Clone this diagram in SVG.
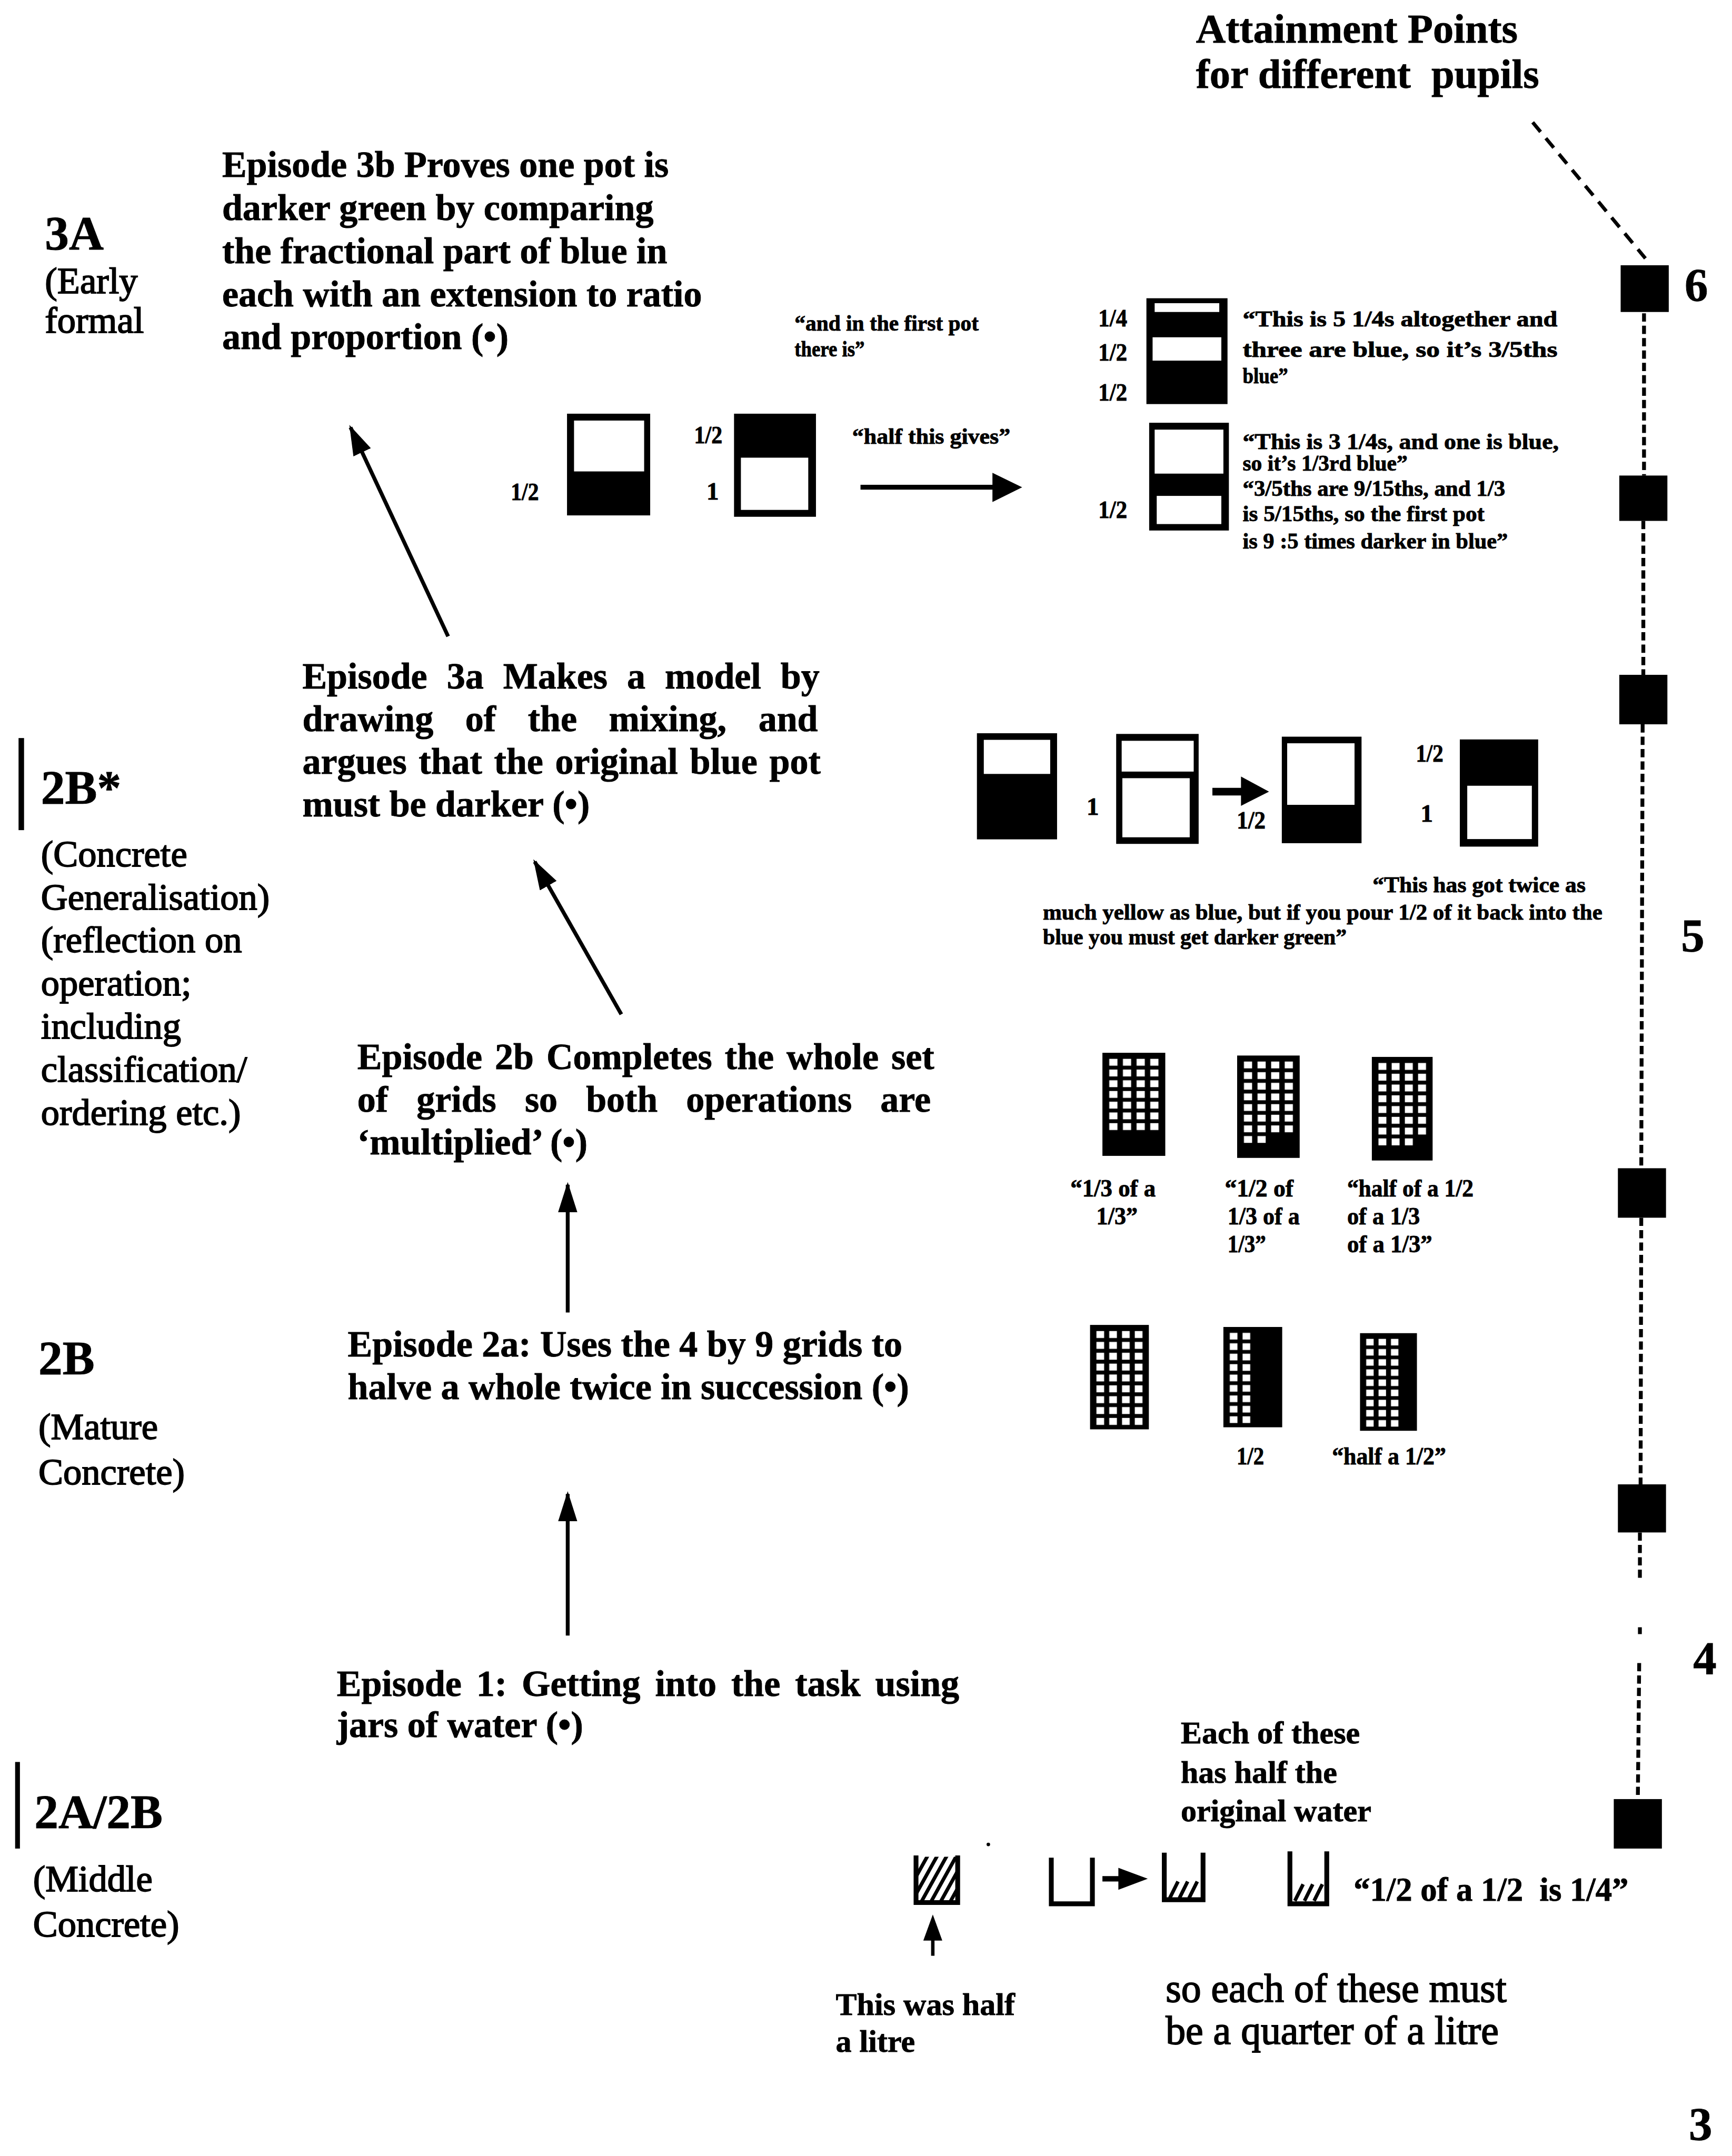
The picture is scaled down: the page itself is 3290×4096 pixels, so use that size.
<svg xmlns="http://www.w3.org/2000/svg" width="3290" height="4096" viewBox="0 0 3290 4096">
<defs>
<style>
.b{font-family:"Liberation Serif","Times New Roman",serif;font-weight:bold;fill:#000;stroke:#000;stroke-width:0.35}
.r{font-family:"Liberation Serif","Times New Roman",serif;font-weight:normal;fill:#000;stroke:#000;stroke-width:0.7}
.ep{font-size:26.8px}
.lvl{font-size:35px}
.desc{font-size:27px}
.q{font-size:16px}
.fr{font-size:18px}
.gl{font-size:18px}
.num{font-size:34px}
.hdr{font-size:30px}
.bot{font-size:23px}
.big{font-size:29px}
.blk{fill:#000}
.wht{fill:#fff}
.conn{stroke:#000;stroke-width:2.8;fill:none}
.dash{stroke:#000;stroke-width:2.6;fill:none;stroke-dasharray:9 6}
.vdash{stroke:#000;stroke-width:2.8;fill:none;stroke-dasharray:6 3}
.jar{stroke:#000;stroke-width:3.5;fill:none}
.hatch{stroke:#000;stroke-width:2.6;fill:none}
</style>
<marker id="ah" viewBox="0 0 22 14" refX="20" refY="7" markerWidth="22" markerHeight="14" markerUnits="userSpaceOnUse" orient="auto">
<path d="M0,0 L22,7 L0,14 z" fill="#000"/>
</marker>
<pattern id="cells" x="4" y="3" width="10" height="7.8" patternUnits="userSpaceOnUse">
<rect x="1" y="1.4" width="6" height="5" fill="#fff"/>
</pattern>
<clipPath id="j1clip"><rect x="667" y="1351" width="29" height="33"/></clipPath>
</defs>
<rect width="3290" height="4096" fill="#fff"/>
<g transform="scale(2.6111)">

<!-- Header -->
<g id="header">
<text class="b hdr" x="870" y="31">Attainment Points</text>
<text class="b hdr" x="870" y="64" style="white-space:pre">for different  pupils</text>
</g>

<!-- Level labels -->
<g id="level-3A">
<text class="b lvl" x="32.7" y="181.5">3A</text>
<text class="r desc" x="32.7" y="213.5">(Early</text>
<text class="r desc" x="32.7" y="242">formal</text>
</g>
<g id="level-2Bstar">
<rect class="blk" x="13.5" y="537" width="4" height="67"/>
<text class="b lvl" x="29.8" y="584.8">2B*</text>
<text class="r desc" x="29.8" y="630.4">(Concrete</text>
<text class="r desc" x="29.8" y="661.7">Generalisation)</text>
<text class="r desc" x="29.8" y="693">(reflection on</text>
<text class="r desc" x="29.8" y="724.4">operation;</text>
<text class="r desc" x="29.8" y="755.7">including</text>
<text class="r desc" x="29.8" y="787">classification/</text>
<text class="r desc" x="29.8" y="818.4">ordering etc.)</text>
</g>
<g id="level-2B">
<text class="b lvl" x="28" y="1000">2B</text>
<text class="r desc" x="28" y="1047">(Mature</text>
<text class="r desc" x="28" y="1080">Concrete)</text>
</g>
<g id="level-2A2B">
<rect class="blk" x="11" y="1282" width="3.5" height="63"/>
<text class="b lvl" x="25" y="1330">2A/2B</text>
<text class="r desc" x="24" y="1376">(Middle</text>
<text class="r desc" x="24" y="1409">Concrete)</text>
</g>

<!-- Episodes -->
<g id="episode-3b">
<text class="b ep" x="161.6" y="128.5">Episode 3b Proves one pot is</text>
<text class="b ep" x="161.6" y="160">darker green by comparing</text>
<text class="b ep" x="161.6" y="191.5">the fractional part of blue in</text>
<text class="b ep" x="161.6" y="223">each with an extension to ratio</text>
<text class="b ep" x="161.6" y="254">and proportion (•)</text>
</g>
<g id="episode-3a">
<text class="b ep" x="220" y="501" style="word-spacing:7.5px">Episode 3a Makes a model by</text>
<text class="b ep" x="220" y="532" style="word-spacing:16.5px">drawing of the mixing, and</text>
<text class="b ep" x="220" y="563" style="word-spacing:2px">argues that the original blue pot</text>
<text class="b ep" x="220" y="594">must be darker (•)</text>
</g>
<g id="episode-2b">
<text class="b ep" x="260" y="778" style="word-spacing:2.5px">Episode 2b Completes the whole set</text>
<text class="b ep" x="260" y="809" style="word-spacing:14px">of grids so both operations are</text>
<text class="b ep" x="260" y="840">‘multiplied’ (•)</text>
</g>
<g id="episode-2a">
<text class="b ep" x="253" y="987">Episode 2a: Uses the 4 by 9 grids to</text>
<text class="b ep" x="253" y="1018">halve a whole twice in succession (•)</text>
</g>
<g id="episode-1">
<text class="b ep" x="245" y="1234" style="word-spacing:4px">Episode 1: Getting into the task using</text>
<text class="b ep" x="245" y="1264">jars of water (•)</text>
</g>

<!-- Episode 3b drawings -->
<g id="drawing-3b">
<text class="b q" x="578" y="240.6" textLength="134" lengthAdjust="spacingAndGlyphs">“and in the first pot</text>
<text class="b q" x="578" y="259.4" textLength="51" lengthAdjust="spacingAndGlyphs">there is”</text>
<rect class="blk" x="412.5" y="301" width="60.5" height="74"/>
<rect class="wht" x="417.6" y="306" width="51" height="37"/>
<text class="b fr" x="371.6" y="364" textLength="20.4" lengthAdjust="spacingAndGlyphs">1/2</text>
<rect class="blk" x="534" y="301" width="59.6" height="75"/>
<rect class="wht" x="539" y="333" width="49" height="38"/>
<text class="b fr" x="505" y="322.3" textLength="20.5" lengthAdjust="spacingAndGlyphs">1/2</text>
<text class="b fr" x="514" y="363.6">1</text>
<text class="b q" x="620" y="323" textLength="115" lengthAdjust="spacingAndGlyphs">“half this gives”</text>
<line x1="626" y1="354.5" x2="724" y2="354.5" stroke="#000" stroke-width="3.5"/>
<path class="blk" d="M722,344 L743.6,354.5 L722,365.3 z"/>
<rect class="blk" x="834" y="217" width="59" height="77"/>
<rect class="wht" x="840" y="220.6" width="47" height="6.4"/>
<rect class="wht" x="838.5" y="245.4" width="50" height="17"/>
<text class="b fr" x="799" y="237.6" textLength="21" lengthAdjust="spacingAndGlyphs">1/4</text>
<text class="b fr" x="799" y="262.4" textLength="21" lengthAdjust="spacingAndGlyphs">1/2</text>
<text class="b fr" x="799" y="291.4" textLength="21" lengthAdjust="spacingAndGlyphs">1/2</text>
<text class="b q" x="904" y="237.6" textLength="229" lengthAdjust="spacingAndGlyphs">“This is 5 1/4s altogether and</text>
<text class="b q" x="904" y="259.6" textLength="229" lengthAdjust="spacingAndGlyphs">three are blue, so it’s 3/5ths</text>
<text class="b q" x="904" y="278.7" textLength="33" lengthAdjust="spacingAndGlyphs">blue”</text>
<rect class="blk" x="836" y="307.6" width="58" height="78.4"/>
<rect class="wht" x="840" y="312.6" width="50" height="32"/>
<rect class="wht" x="841.5" y="360.8" width="47" height="20.5"/>
<text class="b fr" x="799" y="377" textLength="21" lengthAdjust="spacingAndGlyphs">1/2</text>
<text class="b q" x="904" y="326.8" textLength="230" lengthAdjust="spacingAndGlyphs">“This is 3 1/4s, and one is blue,</text>
<text class="b q" x="904" y="342.4" textLength="120" lengthAdjust="spacingAndGlyphs">so it’s 1/3rd blue”</text>
<text class="b q" x="904" y="360.8" textLength="191" lengthAdjust="spacingAndGlyphs">“3/5ths are 9/15ths, and 1/3</text>
<text class="b q" x="904" y="379" textLength="176" lengthAdjust="spacingAndGlyphs">is 5/15ths, so the first pot</text>
<text class="b q" x="904" y="399" textLength="193" lengthAdjust="spacingAndGlyphs">is 9 :5 times darker in blue”</text>
</g>

<!-- Episode 3a drawings -->
<g id="drawing-3a">
<rect class="blk" x="710.7" y="533.5" width="58.3" height="77.2"/>
<rect class="wht" x="715.7" y="538.3" width="48.3" height="24.8"/>
<text class="b fr" x="790.5" y="593">1</text>
<rect class="blk" x="812" y="534" width="60" height="80"/>
<rect class="wht" x="816" y="539" width="52.4" height="22.4"/>
<rect class="wht" x="816.5" y="566.2" width="49" height="43"/>
<line x1="882" y1="576" x2="904" y2="576" stroke="#000" stroke-width="5.5"/>
<path class="blk" d="M902.8,565 L923.2,576 L902.8,586.3 z"/>
<text class="b fr" x="899.7" y="603" textLength="21" lengthAdjust="spacingAndGlyphs">1/2</text>
<rect class="blk" x="932.5" y="536" width="58" height="77.5"/>
<rect class="wht" x="936.4" y="540.8" width="49" height="44.8"/>
<text class="b fr" x="1030" y="554" textLength="20" lengthAdjust="spacingAndGlyphs">1/2</text>
<text class="b fr" x="1033.5" y="598">1</text>
<rect class="blk" x="1062" y="538" width="57" height="78"/>
<rect class="wht" x="1067.4" y="571.7" width="47" height="38.8"/>
<text class="b q" x="998.5" y="649" textLength="155" lengthAdjust="spacingAndGlyphs">“This has got twice as</text>
<text class="b q" x="758.7" y="669" textLength="407" lengthAdjust="spacingAndGlyphs">much yellow as blue, but if you pour 1/2 of it back into the</text>
<text class="b q" x="758.7" y="687" textLength="221" lengthAdjust="spacingAndGlyphs">blue you must get darker green”</text>
</g>

<!-- Episode 2b grids -->
<g id="drawing-2b">
<g transform="translate(802,766) scale(0.994,1)">
<rect class="blk" width="46" height="75"/>
<rect x="4" y="3" width="40" height="54.6" fill="url(#cells)"/>
</g>
<g transform="translate(900,768) scale(0.989,0.993)">
<rect class="blk" width="46" height="75"/>
<rect x="4" y="3" width="40" height="54.6" fill="url(#cells)"/>
<rect x="4" y="57.6" width="20" height="7.8" fill="url(#cells)"/>
</g>
<g transform="translate(998,769) scale(0.961,1.005)">
<rect class="blk" width="46" height="75"/>
<rect x="4" y="3" width="40" height="54.6" fill="url(#cells)"/>
<rect x="4" y="57.6" width="30" height="7.8" fill="url(#cells)"/>
</g>
<text class="b gl" x="778.7" y="870.4" textLength="62" lengthAdjust="spacingAndGlyphs">“1/3 of a</text>
<text class="b gl" x="797.6" y="891" textLength="30" lengthAdjust="spacingAndGlyphs">1/3”</text>
<text class="b gl" x="891" y="870.4" textLength="50" lengthAdjust="spacingAndGlyphs">“1/2 of</text>
<text class="b gl" x="893" y="891" textLength="52.5" lengthAdjust="spacingAndGlyphs">1/3 of a</text>
<text class="b gl" x="893" y="911" textLength="28" lengthAdjust="spacingAndGlyphs">1/3”</text>
<text class="b gl" x="980" y="870.4" textLength="92" lengthAdjust="spacingAndGlyphs">“half of a 1/2</text>
<text class="b gl" x="980" y="891" textLength="53" lengthAdjust="spacingAndGlyphs">of a 1/3</text>
<text class="b gl" x="980" y="911" textLength="62" lengthAdjust="spacingAndGlyphs">of a 1/3”</text>
</g>

<!-- Episode 2a grids -->
<g id="drawing-2a">
<g transform="translate(793,964) scale(0.93,1.013)">
<rect class="blk" width="46" height="75"/>
<rect x="4" y="3" width="40" height="70.2" fill="url(#cells)"/>
</g>
<g transform="translate(890,965.5) scale(0.93,0.973)">
<rect class="blk" width="46" height="75"/>
<rect x="4" y="3" width="20" height="70.2" fill="url(#cells)"/>
</g>
<g transform="translate(989.4,970) scale(0.9,0.947)">
<rect class="blk" width="46" height="75"/>
<rect x="4" y="3" width="30" height="70.2" fill="url(#cells)"/>
</g>
<text class="b gl" x="899.6" y="1065.3" textLength="20" lengthAdjust="spacingAndGlyphs">1/2</text>
<text class="b gl" x="969" y="1065.3" textLength="83" lengthAdjust="spacingAndGlyphs">“half a 1/2”</text>
</g>

<!-- Episode 1 drawings -->
<g id="drawing-1">
<text class="b bot" x="859" y="1268.5">Each of these</text>
<text class="b bot" x="859" y="1297">has half the</text>
<text class="b bot" x="859" y="1325">original water</text>
<circle cx="719" cy="1342" r="1.3" fill="#000"/>
<path class="jar" d="M666.4,1350 V1384.3 H696.7 V1350"/>
<g clip-path="url(#j1clip)">
<path class="hatch" d="M655,1386 L675,1350 M662,1386 L682,1350 M669,1386 L689,1350 M676,1386 L696,1350 M683,1386 L703,1350 M690,1386 L710,1350"/>
</g>
<line x1="678.6" y1="1409" x2="678.6" y2="1423" stroke="#000" stroke-width="2.5"/>
<path class="blk" d="M678.6,1393 L685.5,1412 L671.7,1412 z"/>
<path class="jar" d="M764.8,1351.6 V1385.2 H794.7 V1351.6"/>
<line x1="802" y1="1367" x2="815" y2="1367" stroke="#000" stroke-width="4"/>
<path class="blk" d="M813.6,1359 L835,1367 L813.6,1375 z"/>
<path class="jar" d="M847,1348 V1382.2 H875.2 V1348"/>
<path class="hatch" d="M851,1381 L857,1369 M858,1381 L864,1369 M865,1381 L871,1369"/>
<path class="jar" d="M938.4,1347 V1385.2 H965.2 V1347"/>
<path class="hatch" d="M942,1383 L948,1371 M949,1383 L955,1371 M956,1383 L962,1371"/>
<text class="b" x="984.7" y="1383" style="font-size:24px;white-space:pre" textLength="200" lengthAdjust="spacing">“1/2 of a 1/2  is 1/4”</text>
<text class="b bot" x="608" y="1466">This was half</text>
<text class="b bot" x="608" y="1493">a litre</text>
<text class="r big" x="848" y="1456.5">so each of these must</text>
<text class="r big" x="848" y="1487">be a quarter of a litre</text>
</g>

<!-- Attainment scale -->
<g id="attainment-points">
<rect class="blk" x="1179" y="193" width="35" height="34"/>
<rect class="blk" x="1178" y="346" width="35" height="33"/>
<rect class="blk" x="1178" y="491" width="35" height="36"/>
<rect class="blk" x="1177" y="850" width="35" height="36"/>
<rect class="blk" x="1177" y="1080" width="35" height="35"/>
<rect class="blk" x="1174" y="1309" width="35" height="36"/>
<text class="b num" x="1225.5" y="218.5">6</text>
<text class="b num" x="1223" y="692">5</text>
<text class="b num" x="1231.8" y="1217.7">4</text>
<text class="b num" x="1228.6" y="1557">3</text>
</g>

<!-- Connectors -->
<g id="connectors">
<line class="conn" x1="326" y1="463" x2="255" y2="311" marker-end="url(#ah)"/>
<line class="conn" x1="452" y1="738" x2="389" y2="627" marker-end="url(#ah)"/>
<line class="conn" x1="413" y1="955" x2="413" y2="862" marker-end="url(#ah)"/>
<line class="conn" x1="413" y1="1190" x2="413" y2="1087" marker-end="url(#ah)"/>
<path class="dash" d="M1115,89 L1197,188"/>
<path class="vdash" d="M1196,228 L1196,346 M1195.5,379 L1195.5,491 M1195,527 L1194,850 M1194,886 L1193.5,1080 M1193,1115 L1193,1150 M1193,1184 L1193,1189 M1192.5,1210 L1191.5,1309"/>
</g>

</g>
</svg>
